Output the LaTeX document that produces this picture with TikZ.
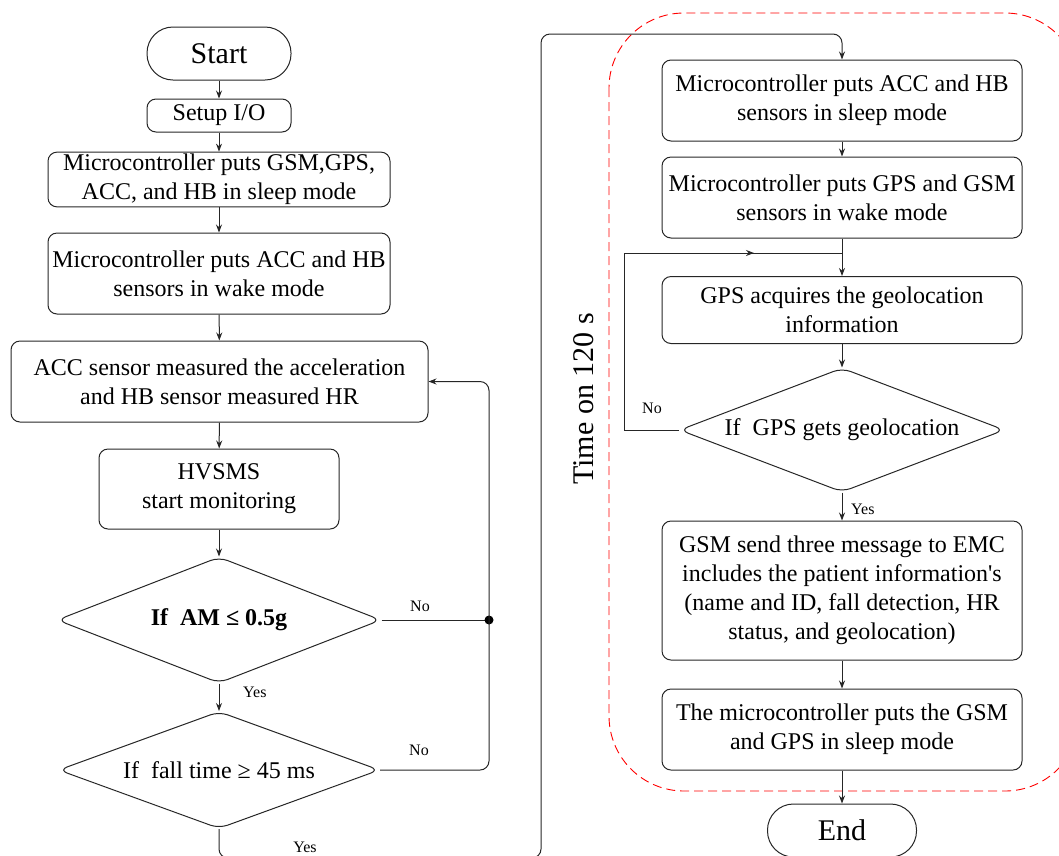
\documentclass[tikz,border=0pt]{standalone}
\usepackage{fontspec}
\setmainfont{Liberation Serif}[Ligatures=TeXOff]
\usetikzlibrary{arrows.meta,shapes.geometric}
\begin{document}
\begin{tikzpicture}[x=1pt,y=-1pt,
  ln/.style={draw=black!85,line width=1pt},
  arr/.style={ln,-{Stealth[length=8pt,width=6pt]}},
  box/.style={draw=black!85,line width=1pt,rectangle,rounded corners=9pt,align=center,
    inner sep=2pt,font=\fontsize{24}{29}\selectfont,minimum width=360pt},
  term/.style={draw=black!85,line width=1pt,rectangle,rounded corners=26pt,
    font=\fontsize{30}{34}\selectfont,minimum height=53pt},
  dec/.style={draw=black!85,line width=1pt,diamond,rounded corners=9pt,inner sep=0pt,
    font=\fontsize{24}{27}\selectfont},
  lab/.style={font=\fontsize{16}{18}\selectfont,inner sep=0pt}]
\useasboundingbox (0,0) rectangle (1059,855);
\clip (0,0) rectangle (1059,855);
% left column
\node[term,minimum width=144pt] (start) at (219,53.5) {Start};
\node[box,minimum width=144pt,minimum height=33pt] (setup) at (219,115.5) {Setup I/O};
\node[box,minimum width=342pt,minimum height=54pt] (b3) at (219,179.5) {Microcontroller puts GSM,GPS,\\ACC, and HB in sleep mode};
\node[box,minimum width=342pt,minimum height=81pt] (b4) at (219,273.5) {Microcontroller puts ACC and HB\\sensors in wake mode};
\node[box,minimum width=417pt,minimum height=81pt] (b5) at (219.5,381.5) {ACC sensor measured the acceleration\\and HB sensor measured HR};
\node[box,minimum width=240pt,minimum height=80pt] (b6) at (219,489) {HVSMS\\start monitoring};
\node[dec,aspect=2.571,minimum width=324pt,minimum height=126pt] (d1) at (219,620) {\bfseries If\ \ AM ≤ 0.5g};
\node[dec,aspect=2.744,minimum width=321pt,minimum height=117pt] (d2) at (219,770) {If\ \ fall time ≥ 45 ms};
% right column
\node[box,minimum height=81pt] (r1) at (842,100.5) {Microcontroller puts ACC and HB\\sensors in sleep mode};
\node[box,minimum height=81pt] (r2) at (842,197.5) {Microcontroller puts GPS and GSM\\sensors in wake mode};
\node[box,minimum height=67pt] (r3) at (842,310) {GPS acquires the geolocation\\information};
\node[dec,aspect=2.621,minimum width=325pt,minimum height=124pt] (dr) at (842,430) {If\ \ GPS gets geolocation};
\node[box,minimum height=139pt] (r4) at (842,590.5) {GSM send three message to EMC\\includes the patient information's\\ (name and ID, fall detection, HR\\status, and geolocation)};
\node[box,minimum height=81pt] (r5) at (842,729.5) {The microcontroller puts the GSM\\and GPS in sleep mode};
\node[term,minimum width=149pt] (end) at (842,830.5) {End};
% red dashed region
\draw[red,line width=0.9pt,dash pattern=on 9pt off 5pt,rounded corners=75pt] (609,13) rectangle (1080,791);
% time label
\node[rotate=90,font=\fontsize{30}{34}\selectfont,inner sep=0pt] (time) at (584,399) {Time on 120 s};
% left connectors
\draw[arr] (start) -- (setup);
\draw[arr] (setup) -- (b3);
\draw[arr] (b3) -- (b4);
\draw[arr] (b4) -- (b5);
\draw[arr] (b5) -- (b6);
\draw[arr] (b6) -- (d1);
\draw[arr] (d1) -- (d2);
\node[lab,anchor=west] (y1) at (243,692) {Yes};
\coordinate (j) at (489,620);
\draw[ln] (d1.east) -- (j);
\fill[black] (j) circle (4.5pt);
\node[lab] (n1) at (420,606) {No};
\draw[arr,rounded corners=9pt] (d2.east) -- (d2.east -| j) -- (j |- b5.east) -- (b5.east);
\node[lab] (n2) at (419,750) {No};
\coordinate (c1) at (219,858);
\coordinate (c2) at (541,858);
\coordinate (c3) at (541,34);
\coordinate (c4) at (842,34);
\draw[arr,rounded corners=9pt] (d2.south) -- (c1) -- (c2) -- (c3) -- (c4) -- (r1.north);
\node[lab] (y2) at (305,847) {Yes};
% right connectors
\draw[arr] (r1) -- (r2);
\draw[arr] (r2) -- (r3);
\draw[arr] (r3) -- (dr);
\coordinate (l1) at (624,430);
\coordinate (l2) at (624,253);
\coordinate (l3) at (842,253);
\coordinate (lm) at (754,253);
\draw[ln] (dr.west) -- (l1) -- (l2) -- (l3);
\draw[arr] (l2) -- (lm);
\node[lab] (n3) at (652,408) {No};
\draw[arr] (dr) -- (r4);
\node[lab,anchor=west] (y3) at (851,509) {Yes};
\draw[arr] (r4) -- (r5);
\draw[arr] (r5) -- (end);
\end{tikzpicture}
\end{document}
